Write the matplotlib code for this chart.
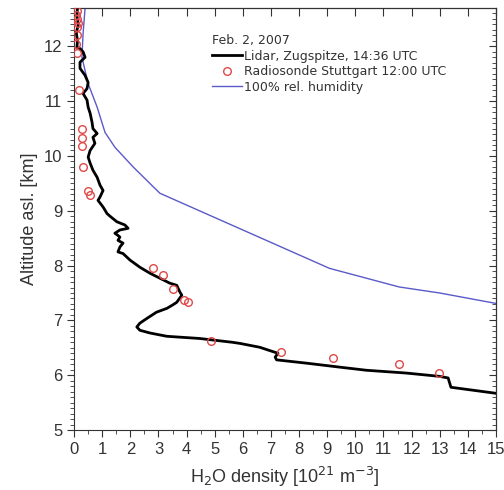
import matplotlib.pyplot as plt
from matplotlib.ticker import MultipleLocator

plt.rcParams['font.family'] = ['Liberation Sans', 'DejaVu Sans']

# lidar profile (H2O density, altitude)
lidar_x = [15.0, 13.4, 13.3, 12.98, 11.8, 10.4, 9.4, 8.26, 7.2, 7.15, 7.25, 6.6, 5.9,
           5.64, 4.47, 3.3, 2.7, 2.34, 2.23, 2.34, 2.6, 2.93, 3.3, 3.5, 3.65, 3.83, 3.76,
           3.65, 3.4, 3.05, 2.7, 2.34, 1.99, 1.74, 1.56, 1.63, 1.74, 1.56, 1.63, 1.56,
           1.45, 1.63, 1.92, 1.81, 1.52, 1.28, 1.17, 1.03, 0.85, 0.92, 1.03, 0.92, 0.82,
           0.67, 0.57, 0.5, 0.57, 0.74, 0.67, 0.82, 0.67, 0.64, 0.57, 0.5, 0.46, 0.32,
           0.46, 0.5, 0.39, 0.21, 0.21, 0.39, 0.32, 0.21, 0.1, 0.12, 0.08, 0.15, 0.1, 0.12]
lidar_y = [5.67, 5.78, 5.95, 5.98, 6.04, 6.09, 6.15, 6.22, 6.28, 6.33, 6.40, 6.51, 6.58,
           6.60, 6.67, 6.71, 6.77, 6.82, 6.88, 6.95, 7.04, 7.15, 7.22, 7.28, 7.33, 7.46, 7.52,
           7.64, 7.68, 7.77, 7.86, 7.97, 8.10, 8.22, 8.25, 8.34, 8.41, 8.46, 8.52, 8.55,
           8.59, 8.65, 8.68, 8.74, 8.80, 8.90, 8.95, 9.07, 9.19, 9.25, 9.37, 9.47, 9.61,
           9.74, 9.87, 9.98, 10.10, 10.23, 10.34, 10.41, 10.50, 10.61, 10.78, 10.89, 11.02, 11.14,
           11.23, 11.34, 11.47, 11.60, 11.71, 11.80, 11.90, 11.96, 11.98, 12.1, 12.25, 12.4, 12.55, 12.7]

# radiosonde points
sonde_x = [12.98, 11.56, 9.22, 7.34, 4.86, 4.04, 3.9, 3.51, 3.16, 2.8, 0.57, 0.5, 0.32,
           0.28, 0.28, 0.28, 0.18, 0.1, 0.08, 0.12, 0.1, 0.15, 0.1, 0.08, 0.1]
sonde_y = [6.04, 6.2, 6.31, 6.42, 6.62, 7.33, 7.37, 7.57, 7.83, 7.95, 9.28, 9.37, 9.8,
           10.18, 10.32, 10.49, 11.2, 11.88, 12.05, 12.2, 12.35, 12.42, 12.5, 12.58, 12.65]

# 100% relative humidity
rh_x = [0.39, 0.32, 0.28, 0.5, 0.82, 1.1, 1.45, 2.1, 3.05, 9.08, 11.56, 13.0, 15.0]
rh_y = [12.69, 12.24, 11.8, 11.32, 10.89, 10.43, 10.16, 9.8, 9.32, 7.95, 7.61, 7.5, 7.31]

fig = plt.figure(figsize=(5.04, 4.90), dpi=100)
ax = fig.add_axes([0.147, 0.1224, 0.837, 0.8613])

ax.plot(lidar_x, lidar_y, color='black', lw=2, label='Lidar, Zugspitze, 14:36 UTC', zorder=3)
ax.plot(sonde_x, sonde_y, 'o', mfc='none', mec='#e04848', mew=1, ms=5.5,
        label='Radiosonde Stuttgart 12:00 UTC', zorder=4)
ax.plot(rh_x, rh_y, color='#5a5ac8', lw=1, label='100% rel. humidity', zorder=2)

ax.set_xlim(0, 15)
ax.set_ylim(5, 12.7)
ax.xaxis.set_major_locator(MultipleLocator(1))
ax.xaxis.set_minor_locator(MultipleLocator(0.5))
ax.yaxis.set_major_locator(MultipleLocator(1))
ax.yaxis.set_minor_locator(MultipleLocator(0.1))
ax.tick_params(which='both', direction='out', top=False, right=False,
               labelsize=12, labelcolor='#333333', color='#333333')
ax.tick_params(which='major', length=5)
ax.tick_params(which='minor', length=3)

# inward ticks on top and right
ax2 = ax.secondary_xaxis('top')
ax2.xaxis.set_major_locator(MultipleLocator(1))
ax2.tick_params(direction='in', length=6, labeltop=False, color='#333333')
ax3 = ax.secondary_yaxis('right')
ax3.yaxis.set_major_locator(MultipleLocator(1))
ax3.yaxis.set_minor_locator(MultipleLocator(0.1))
ax3.tick_params(which='both', direction='in', labelright=False, color='#333333')
ax3.tick_params(which='major', length=5)
ax3.tick_params(which='minor', length=3)

for s in ax.spines.values():
    s.set_color('#333333')

ax.set_xlabel(r'H$_2$O density [10$^{21}$ m$^{-3}$]', fontsize=13, color='#333333', labelpad=6)
ax.set_ylabel('Altitude asl. [km]', fontsize=13, color='#333333', labelpad=4)

leg = ax.legend(loc='upper left', bbox_to_anchor=(0.314, 0.95), frameon=False,
                prop={'family': 'DejaVu Sans', 'size': 9}, title='Feb. 2, 2007',
                title_fontproperties={'family': 'DejaVu Sans', 'size': 9},
                handlelength=2.4, handletextpad=0.2, labelspacing=0.2, borderaxespad=0)
leg._legend_box.align = 'left'
for t in leg.get_texts():
    t.set_color('#333333')
leg.get_title().set_color('#333333')

fig.savefig('out.png', dpi=100)
